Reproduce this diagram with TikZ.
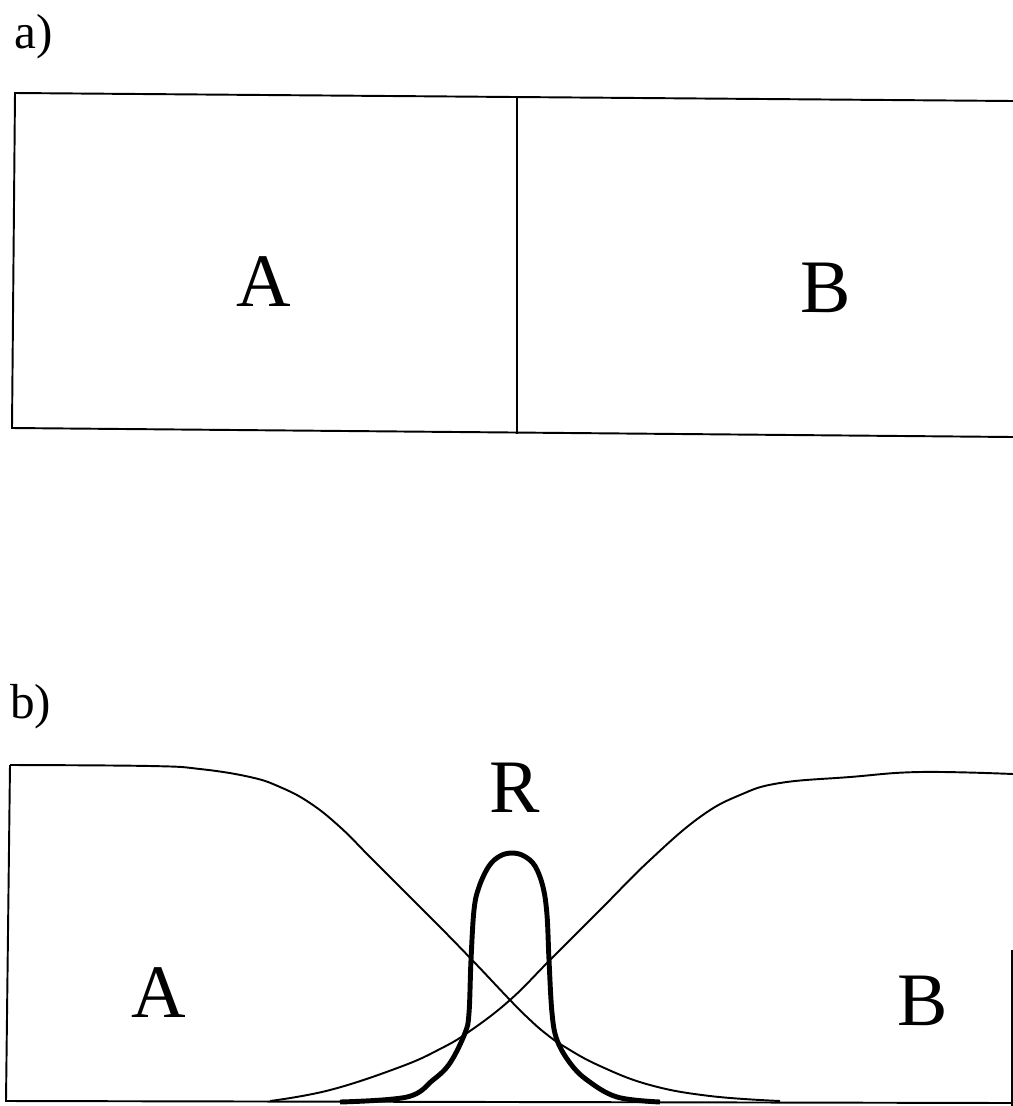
\documentclass[tikz,border=0pt]{standalone}
\usepackage{fontspec}
\setmainfont{Liberation Serif}
\usepackage{tikz}
\usetikzlibrary{positioning}

\begin{document}
\begin{tikzpicture}[
    x=0.02cm, y=-0.02cm,
    frame/.style={line width=1.1pt, line join=miter},
    curve/.style={line width=1.1pt},
    peak/.style={line width=2.8pt},
    species/.style={font=\fontsize{43}{50}\selectfont, inner sep=0pt},
    panel/.style={font=\fontsize{28}{34}\selectfont, inner sep=0pt, anchor=north west}
  ]
  \useasboundingbox (0,0) rectangle (1013,1106);
  % a) zwei Bereiche
  \node[panel] (la) at (14,14) {a)};
  \coordinate (tl) at (15,93);
  \coordinate (tr) at (1013,101);
  \coordinate (bl) at (12,428);
  \coordinate (br) at (1013,437);
  \coordinate (mt) at (517,97);
  \coordinate (mb) at (517,434);
  \draw[frame] (tr) -- (tl) -- (bl) -- (br);
  \draw[frame] (mt) -- (mb);
  \node[species] (A1) at (264,282) {A};
  \node[species] (B1) at (826,288) {B};
  % b) Profile
  \node[panel] (lb) at (10,684) {b)};
  \coordinate (ul) at (10,765);
  \coordinate (ll) at (6,1101);
  \coordinate (lr) at (1013,1103);
  \coordinate (ru) at (1012,950);
  \coordinate (rl) at (1012,1106);
  \draw[frame] (ul) -- (ll) -- (lr);
  \draw[frame] (ru) -- (rl);
  \draw[curve] plot[smooth, tension=0.7] coordinates {
    (10,765) (150,766) (200,769) (250,777) (280,787) (310,803) (340,827)
    (370,857) (400,887) (440,927) (475,963) (510,1000) (528,1018)
    (545,1033) (565,1047) (600,1066) (650,1085) (710,1096) (780,1101)};
  \draw[curve] plot[smooth, tension=0.7] coordinates {
    (270,1101) (330,1090) (400,1067) (440,1049) (470,1031)
    (510,1000) (550,960) (600,910) (650,860) (700,817) (740,795)
    (780,783) (850,777) (920,772) (1013,774)};
  \draw[peak] plot[smooth, tension=0.6] coordinates {
    (340,1102) (407,1097) (433,1080) (450,1063) (465,1033) (469,1013)
    (471,960) (474,910) (479,887) (489,866) (500,856) (512,853)
    (524,856) (535,866) (543,887) (547,915)
    (549,960) (552,1013) (557,1040) (570,1063) (587,1080) (617,1097) (660,1102)};
  \node[species] (R) at (515,788) {R};
  \node[species] (A2) at (159,993) {A};
  \node[species] (B2) at (923,1001) {B};
\end{tikzpicture}
\end{document}
